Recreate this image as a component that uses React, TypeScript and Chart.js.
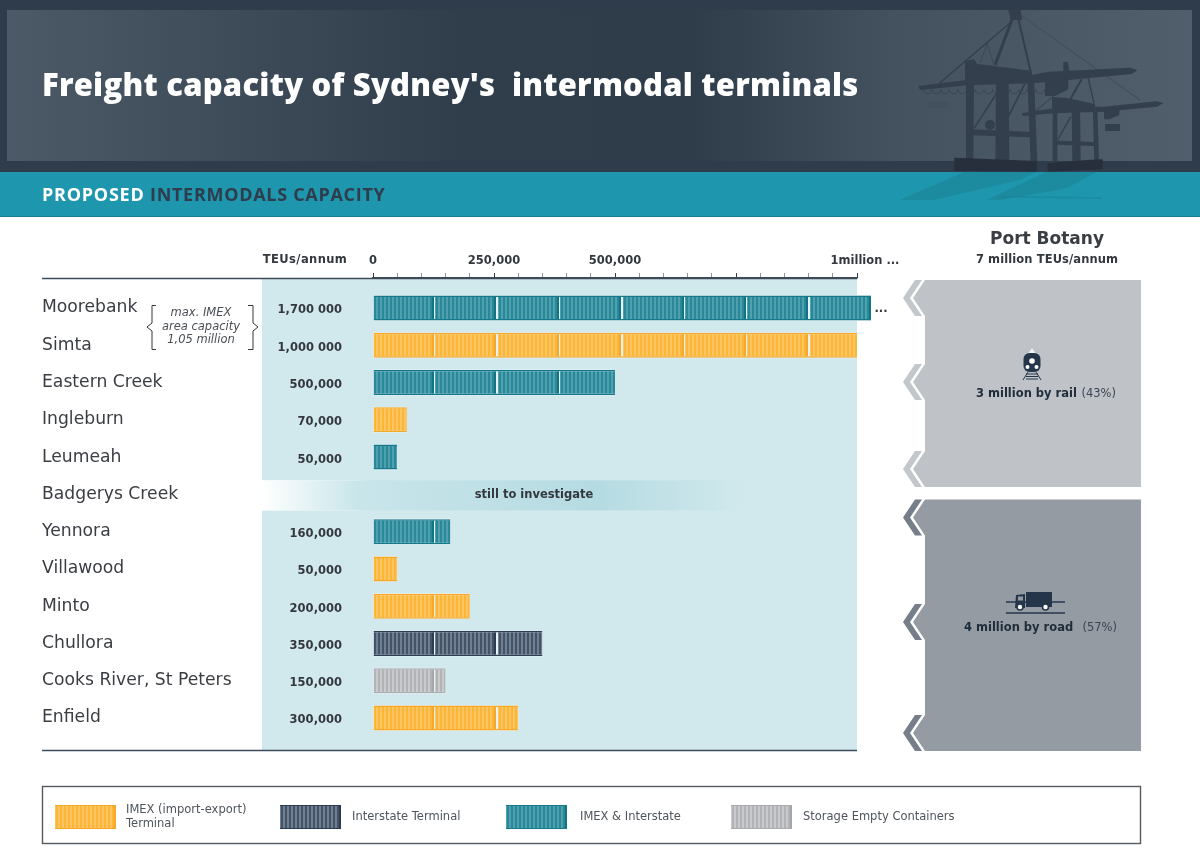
import { useEffect, useRef } from "react";
import { Chart, registerables } from "chart.js";

Chart.register(...registerables);

const terminals = [
    "Moorebank", "Simta", "Eastern Creek", "Ingleburn", "Leumeah", "Badgerys Creek",
    "Yennora", "Villawood", "Minto", "Chullora", "Cooks River, St Peters", "Enfield",
];
const capacities = [1700000, 1000000, 500000, 70000, 50000, null, 160000, 50000, 200000, 350000, 150000, 300000];
const capacityLabels = [
    "1,700 000", "1,000 000", "500,000", "70,000", "50,000", "",
    "160,000", "50,000", "200,000", "350,000", "150,000", "300,000",
];
const terminalKinds = ["both", "imex", "both", "imex", "both", "", "both", "imex", "imex", "interstate", "storage", "imex"];
const axisLabels: Record<number, string> = { 0: "0", 250000: "250,000", 500000: "500,000", 1000000: "    1million ..." };

const legendKinds = ["imex", "interstate", "both", "storage"];
const legendTexts = [["IMEX (import-export)", "Terminal"], ["Interstate Terminal"], ["IMEX & Interstate"], ["Storage Empty Containers"]];

const FONT = '"DejaVu Sans", sans-serif';
const TITLE_FONT = '"Open Sans", sans-serif';
const LEFT = 373;

type Kind = { base: string; rib: string; end: string; edge: string };
const kinds: Record<string, Kind> = {
    imex: { base: "#fdc561", rib: "#fbb537", end: "#f6a826", edge: "#f6a826" },
    interstate: { base: "#6f7f90", rib: "#445367", end: "#2e3c50", edge: "#2f3d52" },
    both: { base: "#4fa1b0", rib: "#2a8899", end: "#0f7484", edge: "#14798a" },
    storage: { base: "#c8cacc", rib: "#b1b3b6", end: "#a4a6a9", edge: "#a9abae" },
};

// one tile holds five containers so the 62.4px period repeats on a whole pixel
const makeTile = (k: Kind) => {
    const c = document.createElement("canvas");
    c.width = 312;
    c.height = 1;
    const g = c.getContext("2d")!;
    for (let n = 0; n < 5; n++) {
        const x0 = Math.round(n * 62.4);
        g.fillStyle = k.base;
        g.fillRect(x0, 0, 61, 1);
        g.fillStyle = k.rib;
        for (let r = 1; r < 58; r += 4) g.fillRect(x0 + r, 0, 2, 1);
        g.fillStyle = k.end;
        g.fillRect(x0 + 59, 0, 2, 1);
        g.fillStyle = "#e6f2f4";
        g.fillRect(x0 + 61, 0, 2, 1);
    }
    return c;
};

const poly = (ctx: CanvasRenderingContext2D, pts: number[][], fill: string) => {
    ctx.fillStyle = fill;
    ctx.beginPath();
    pts.forEach((p, i) => (i ? ctx.lineTo(p[0], p[1]) : ctx.moveTo(p[0], p[1])));
    ctx.closePath();
    ctx.fill();
};

const seg = (ctx: CanvasRenderingContext2D, x1: number, y1: number, x2: number, y2: number, w: number, color: string) => {
    ctx.strokeStyle = color;
    ctx.lineWidth = w;
    ctx.beginPath();
    ctx.moveTo(x1, y1);
    ctx.lineTo(x2, y2);
    ctx.stroke();
};

const text = (
    ctx: CanvasRenderingContext2D, s: string, x: number, y: number, font: string, color: string,
    align: CanvasTextAlign = "left", spacing = "0px",
) => {
    ctx.font = font;
    ctx.fillStyle = color;
    ctx.textAlign = align;
    ctx.textBaseline = "middle";
    (ctx as any).letterSpacing = spacing;
    ctx.fillText(s, x, y + 1);
    (ctx as any).letterSpacing = "0px";
};

const drawCrane = (ctx: CanvasRenderingContext2D) => {
    const c = "#333f4c";
    ctx.save();
    ctx.translate(900, 0);
    ctx.scale(1 / 3, 1 / 3);
    // reflection on the teal band
    ctx.globalAlpha = 0.5;
    const r = "#1a8094";
    poly(ctx, [[195, 515], [410, 515], [360, 540], [100, 600], [0, 600]], r);
    poly(ctx, [[440, 515], [590, 515], [500, 565], [300, 600], [260, 600]], r);
    seg(ctx, 300, 590, 605, 594, 4, r);
    ctx.globalAlpha = 1;
    // stays
    seg(ctx, 362, 45, 720, 300, 4, "#434f5c");
    seg(ctx, 338, 62, 118, 250, 4, c);
    // big crane
    seg(ctx, 345, 35, 285, 195, 9, c);
    seg(ctx, 350, 35, 392, 215, 6, c);
    seg(ctx, 262, 130, 240, 190, 2, c);
    seg(ctx, 262, 130, 280, 190, 2, c);
    poly(ctx, [[325, 30], [362, 30], [366, 60], [332, 60]], c);
    poly(ctx, [[55, 258], [200, 240], [395, 225], [445, 215], [690, 203], [712, 210], [695, 222], [450, 245], [395, 250], [200, 256], [60, 270]], c);
    poly(ctx, [[195, 182], [222, 178], [232, 192], [395, 212], [397, 232], [195, 240]], c);
    poly(ctx, [[198, 230], [222, 230], [220, 480], [198, 480]], c);
    poly(ctx, [[288, 230], [326, 230], [328, 490], [286, 490]], c);
    poly(ctx, [[382, 230], [402, 230], [412, 490], [392, 490]], c);
    poly(ctx, [[218, 388], [395, 396], [395, 412], [218, 406]], c);
    seg(ctx, 222, 385, 290, 280, 5, c);
    seg(ctx, 325, 350, 375, 250, 5, c);
    ctx.fillStyle = c;
    ctx.beginPath();
    ctx.arc(270, 375, 15, 0, Math.PI * 2);
    ctx.fill();
    poly(ctx, [[490, 185], [503, 185], [510, 220], [490, 220]], c);
    poly(ctx, [[435, 235], [505, 235], [505, 268], [465, 288], [435, 288]], c);
    poly(ctx, [[82, 305], [145, 305], [145, 322], [82, 322]], "#444f5c");
    // hoist cables
    ctx.strokeStyle = c;
    ctx.lineWidth = 2;
    for (let x = 70; x < 440; x += 26) {
        ctx.beginPath();
        ctx.arc(x + 13, 268, 13, 0, Math.PI);
        ctx.stroke();
    }
    poly(ctx, [[163, 473], [410, 483], [410, 515], [163, 513]], "#262f3b");
    // small crane
    seg(ctx, 545, 238, 510, 300, 6, c);
    seg(ctx, 565, 235, 582, 310, 4, c);
    poly(ctx, [[365, 340], [460, 325], [610, 320], [770, 304], [790, 310], [770, 320], [610, 335], [460, 340], [370, 348]], c);
    poly(ctx, [[456, 290], [505, 295], [585, 312], [585, 330], [456, 326]], c);
    poly(ctx, [[458, 320], [472, 320], [472, 485], [458, 485]], c);
    poly(ctx, [[515, 320], [540, 320], [542, 485], [517, 485]], c);
    poly(ctx, [[578, 320], [592, 320], [597, 485], [583, 485]], c);
    poly(ctx, [[470, 422], [585, 426], [585, 438], [470, 434]], c);
    seg(ctx, 473, 420, 512, 350, 4, c);
    seg(ctx, 405, 335, 458, 290, 3, c);
    poly(ctx, [[615, 372], [660, 372], [660, 393], [615, 393]], c);
    poly(ctx, [[612, 332], [658, 325], [658, 345], [628, 358], [612, 358]], c);
    poly(ctx, [[443, 490], [560, 480], [608, 478], [608, 508], [443, 515]], "#262f3b");
    ctx.restore();
};

const drawHeader = (ctx: CanvasRenderingContext2D) => {
    ctx.fillStyle = "#2f3c4b";
    ctx.fillRect(0, 0, 1200, 172);
    const g = ctx.createLinearGradient(7, 0, 1192, 0);
    g.addColorStop(0, "#4c5a68");
    g.addColorStop(0.38, "#303e4c");
    g.addColorStop(0.58, "#2f3d4b");
    g.addColorStop(0.75, "#44515f");
    g.addColorStop(1, "#515e6b");
    ctx.fillStyle = g;
    ctx.fillRect(7, 10, 1185, 151);
    ctx.fillStyle = "#1e96ad";
    ctx.fillRect(0, 172, 1200, 45);
    ctx.fillStyle = "#177f93";
    ctx.fillRect(0, 216, 1200, 1);
    drawCrane(ctx);
    text(ctx, "Freight capacity of Sydney's  intermodal terminals", 42, 86, `800 31px ${TITLE_FONT}`, "#ffffff", "left", "0.23px");
    text(ctx, "PROPOSED", 42, 195, `bold 18px ${TITLE_FONT}`, "#ffffff", "left", "0.75px");
    text(ctx, "INTERMODALS CAPACITY", 150, 195, `bold 18px ${TITLE_FONT}`, "#2e3c4c", "left", "0.7px");
};

const drawPanel = (
    ctx: CanvasRenderingContext2D, top: number, bottom: number, tips: number[], fill: string, chevron: string,
) => {
    const pts: number[][] = [[1141, top]];
    pts.push([1141, bottom]);
    [...tips].reverse().forEach((t) => {
        pts.push([925, t + 18], [913, t], [925, t - 18]);
    });
    poly(ctx, pts, fill);
    tips.forEach((t) => {
        poly(ctx, [[915, t - 18], [922, t - 18], [910, t], [922, t + 18], [915, t + 18], [903, t]], chevron);
    });
};

const drawRightSide = (ctx: CanvasRenderingContext2D) => {
    text(ctx, "Port Botany", 1047, 238.5, `bold 17px ${FONT}`, "#3a3d42", "center");
    text(ctx, "7 million TEUs/annum", 1047, 259, `bold 11.5px ${FONT}`, "#33383e", "center", "0.1px");
    drawPanel(ctx, 280, 487, [298, 382, 469], "#bfc2c7", "#c3c6ca");
    drawPanel(ctx, 499.5, 751, [517.5, 622, 733], "#959ba2", "#757e89");

    // train
    const dark = "#26364a";
    poly(ctx, [[1032, 348], [1036, 354], [1028, 354]], "#f1f2f3");
    ctx.fillStyle = dark;
    ctx.beginPath();
    ctx.roundRect(1023.5, 353, 17, 19, 6);
    ctx.fill();
    ctx.fillStyle = "#ffffff";
    [[1032, 361, 2.8], [1027.5, 367, 2], [1036.5, 367, 2]].forEach((p) => {
        ctx.beginPath();
        ctx.arc(p[0], p[1], p[2], 0, Math.PI * 2);
        ctx.fill();
    });
    seg(ctx, 1028, 372, 1023, 380, 1, dark);
    seg(ctx, 1036, 372, 1041, 380, 1, dark);
    [374, 376.5, 379].forEach((y) => seg(ctx, 1026, y, 1038, y, 1, dark));
    text(ctx, "3 million by rail", 976, 393, `bold 11.5px ${FONT}`, "#1f2c3a");
    text(ctx, "(43%)", 1116, 393, `11.5px ${FONT}`, "#3c4652", "right");

    // truck
    seg(ctx, 1006, 602, 1065, 602, 1.5, dark);
    seg(ctx, 1006, 613, 1065, 613, 1.5, dark);
    ctx.fillStyle = dark;
    ctx.fillRect(1026, 592, 26, 15);
    poly(ctx, [[1016, 595], [1025, 594], [1025, 608], [1015, 608]], dark);
    ctx.fillStyle = "#959ba2";
    ctx.fillRect(1018, 596.5, 5, 4);
    [1020, 1045.5].forEach((x) => {
        ctx.beginPath();
        ctx.arc(x, 607, 3.8, 0, Math.PI * 2);
        ctx.fillStyle = dark;
        ctx.fill();
        ctx.beginPath();
        ctx.arc(x, 607, 2.2, 0, Math.PI * 2);
        ctx.fillStyle = "#ffffff";
        ctx.fill();
    });
    text(ctx, "4 million by road", 964, 627.5, `bold 11.5px ${FONT}`, "#1f2c3a");
    text(ctx, "(57%)", 1117, 627.5, `11.5px ${FONT}`, "#3c4652", "right");
};

const drawLegend = (ctx: CanvasRenderingContext2D, tiles: Record<string, HTMLCanvasElement>) => {
    ctx.strokeStyle = "#555a60";
    ctx.lineWidth = 1.4;
    ctx.strokeRect(42.5, 786.5, 1098, 57);
    const xs = [55, 280, 506, 731];
    const textXs = [126, 352, 580, 803];
    legendKinds.forEach((name, i) => {
        ctx.drawImage(tiles[name], 0, 0, 61, 1, xs[i], 805, 61, 24);
        ctx.fillStyle = kinds[name].edge;
        ctx.fillRect(xs[i], 805, 61, 1);
        ctx.fillRect(xs[i], 828, 61, 1);
        const lines = legendTexts[i];
        if (lines.length === 2) {
            text(ctx, lines[0], textXs[i], 809.5, `11.5px ${FONT}`, "#4f555b");
            text(ctx, lines[1], textXs[i], 823.5, `11.5px ${FONT}`, "#4f555b");
        } else {
            text(ctx, lines[0], textXs[i], 816.5, `11.5px ${FONT}`, "#4f555b");
        }
    });
};

const drawBraces = (ctx: CanvasRenderingContext2D) => {
    ctx.strokeStyle = "#33383e";
    ctx.lineWidth = 1;
    ctx.beginPath();
    ctx.moveTo(156, 305.5);
    ctx.lineTo(152, 305.5);
    ctx.lineTo(152, 323);
    ctx.lineTo(147, 327);
    ctx.lineTo(152, 331);
    ctx.lineTo(152, 349.5);
    ctx.lineTo(156, 349.5);
    ctx.moveTo(248, 305.5);
    ctx.lineTo(253, 305.5);
    ctx.lineTo(253, 323);
    ctx.lineTo(258, 327);
    ctx.lineTo(253, 331);
    ctx.lineTo(253, 349.5);
    ctx.lineTo(248, 349.5);
    ctx.stroke();
    const f = `italic 11.5px ${FONT}`;
    text(ctx, "max. IMEX", 201, 312.5, f, "#4a4f55", "center");
    text(ctx, "area capacity", 201, 326.5, f, "#4a4f55", "center");
    text(ctx, "1,05 million", 201, 339.5, f, "#4a4f55", "center");
};

const CapacityChart = () => {
    const chartRef = useRef<HTMLCanvasElement>(null);

    useEffect(() => {
        if (!chartRef.current) return;
        const ctx = chartRef.current.getContext("2d")!;

        const tiles: Record<string, HTMLCanvasElement> = {};
        const patterns: Record<string, CanvasPattern> = {};
        Object.keys(kinds).forEach((name) => {
            tiles[name] = makeTile(kinds[name]);
            const p = ctx.createPattern(tiles[name], "repeat")!;
            p.setTransform(new DOMMatrix().translate(LEFT, 0));
            patterns[name] = p;
        });

        const backdrop = {
            id: "backdrop",
            beforeDraw(chart: any) {
                const c = chart.ctx as CanvasRenderingContext2D;
                const { top, bottom, right } = chart.chartArea;
                const y = chart.scales.y;
                c.save();
                c.fillStyle = "#ffffff";
                c.fillRect(0, 0, 1200, 848);
                drawHeader(c);
                c.fillStyle = "#d1e9ed";
                c.fillRect(262, top, right - 262, bottom - top);
                // row without a figure yet
                const rowY = y.getPixelForValue(5) + 1;
                c.fillStyle = "#ffffff";
                c.fillRect(262, rowY - 15, 100, 30);
                const band = c.createLinearGradient(262, 0, 745, 0);
                band.addColorStop(0, "#ffffff");
                band.addColorStop(0.2, "#c8e5ea");
                band.addColorStop(0.7, "#b5dbe2");
                band.addColorStop(1, "#d1e9ed");
                c.fillStyle = band;
                c.fillRect(262, rowY - 15, 483, 30);
                seg(c, 42, top + 0.5, right, top + 0.5, 1.4, "#3c4a5a");
                seg(c, 42, bottom + 0.5, right, bottom + 0.5, 1.4, "#3c4a5a");
                drawRightSide(c);
                drawLegend(c, tiles);
                drawBraces(c);
                text(c, "TEUs/annum", 305, 259.5, `bold 11.5px ${FONT}`, "#33383e", "center", "0.4px");
                c.restore();
            },
            beforeDatasetsDraw(chart: any) {
                // pale edge above and below each bar
                const c = chart.ctx as CanvasRenderingContext2D;
                c.save();
                c.fillStyle = "#e6f2f4";
                chart.getDatasetMeta(0).data.forEach((bar: any, i: number) => {
                    if (capacities[i] === null) return;
                    const end = Math.min(bar.x, chart.chartArea.right + 14);
                    c.fillRect(LEFT, bar.y - 13, end - LEFT, 26);
                });
                c.restore();
            },
            afterDatasetsDraw(chart: any) {
                const c = chart.ctx as CanvasRenderingContext2D;
                const y = chart.scales.y;
                c.save();
                capacityLabels.forEach((label, i) => {
                    if (label) text(c, label, 342, y.getPixelForValue(i) + 1.5, `bold 11.5px ${FONT}`, "#33383e", "right");
                });
                text(c, "still to investigate", 534, y.getPixelForValue(5), `bold 11.5px ${FONT}`, "#33383e", "center");
                text(c, "...", 881, y.getPixelForValue(0), `bold 11.5px ${FONT}`, "#33383e", "center");
                c.restore();
            },
        };

        const chartInstance = new Chart(chartRef.current, {
            type: "bar",
            data: {
                datasets: [
                    {
                        data: capacities.map((v, i) => ({ x: v, y: i })) as any,
                        barThickness: 25,
                        backgroundColor: (c: any) => patterns[terminalKinds[c.dataIndex]] || "transparent",
                        borderColor: (c: any) => kinds[terminalKinds[c.dataIndex]]?.edge || "transparent",
                        borderWidth: { top: 1.5, bottom: 1.5, left: 0, right: 0 },
                        borderSkipped: false,
                        inflateAmount: 0,
                        // the Moorebank bar runs past the axis and is cut off just after it
                        clip: { left: 0, top: 0, right: 14, bottom: 0 },
                    },
                ],
            },
            options: {
                indexAxis: "y",
                responsive: false,
                animation: false,
                devicePixelRatio: 1,
                layout: { padding: { left: 42, right: 343, top: 0, bottom: 98 } },
                plugins: { legend: { display: false }, tooltip: { enabled: false } },
                scales: {
                    x: {
                        type: "linear",
                        position: "top",
                        min: 0,
                        max: 1000000,
                        afterFit: (s: any) => {
                            s.height = 278;
                        },
                        border: { color: "#3c4a5a", width: 1.4 },
                        grid: {
                            drawOnChartArea: false,
                            tickLength: 5,
                            tickColor: (c: any) => (c.tick?.value % 250000 === 0 ? "#2e3c4c" : "#8d96a0"),
                        },
                        ticks: {
                            stepSize: 50000,
                            autoSkip: false,
                            maxRotation: 0,
                            padding: 5,
                            color: "#33383e",
                            font: { family: FONT, size: 11.5, weight: "bold" },
                            callback: (v: any) => axisLabels[v] ?? "",
                        },
                    },
                    y: {
                        type: "linear",
                        reverse: true,
                        offset: false,
                        min: -0.805,
                        max: 11.859,
                        afterFit: (s: any) => {
                            s.width = LEFT - 42;
                        },
                        afterBuildTicks: (s: any) => {
                            s.ticks = terminals.map((_, i) => ({ value: i }));
                        },
                        border: { display: false },
                        grid: { display: false },
                        ticks: {
                            autoSkip: false,
                            crossAlign: "far",
                            color: "#3a3d42",
                            font: { family: FONT, size: 17.2 },
                            callback: (v: any) => terminals[v],
                        },
                    },
                },
            } as any,
            plugins: [backdrop],
        });

        return () => {
            chartInstance.destroy();
        };
    }, []);

    return <canvas ref={chartRef} width={1200} height={848} style={{ display: "block" }} />;
};

export default function App() {
    return (
        <div style={{ position: "absolute", left: 0, top: 0, width: 1200, height: 848 }}>
            <CapacityChart />
        </div>
    );
}
